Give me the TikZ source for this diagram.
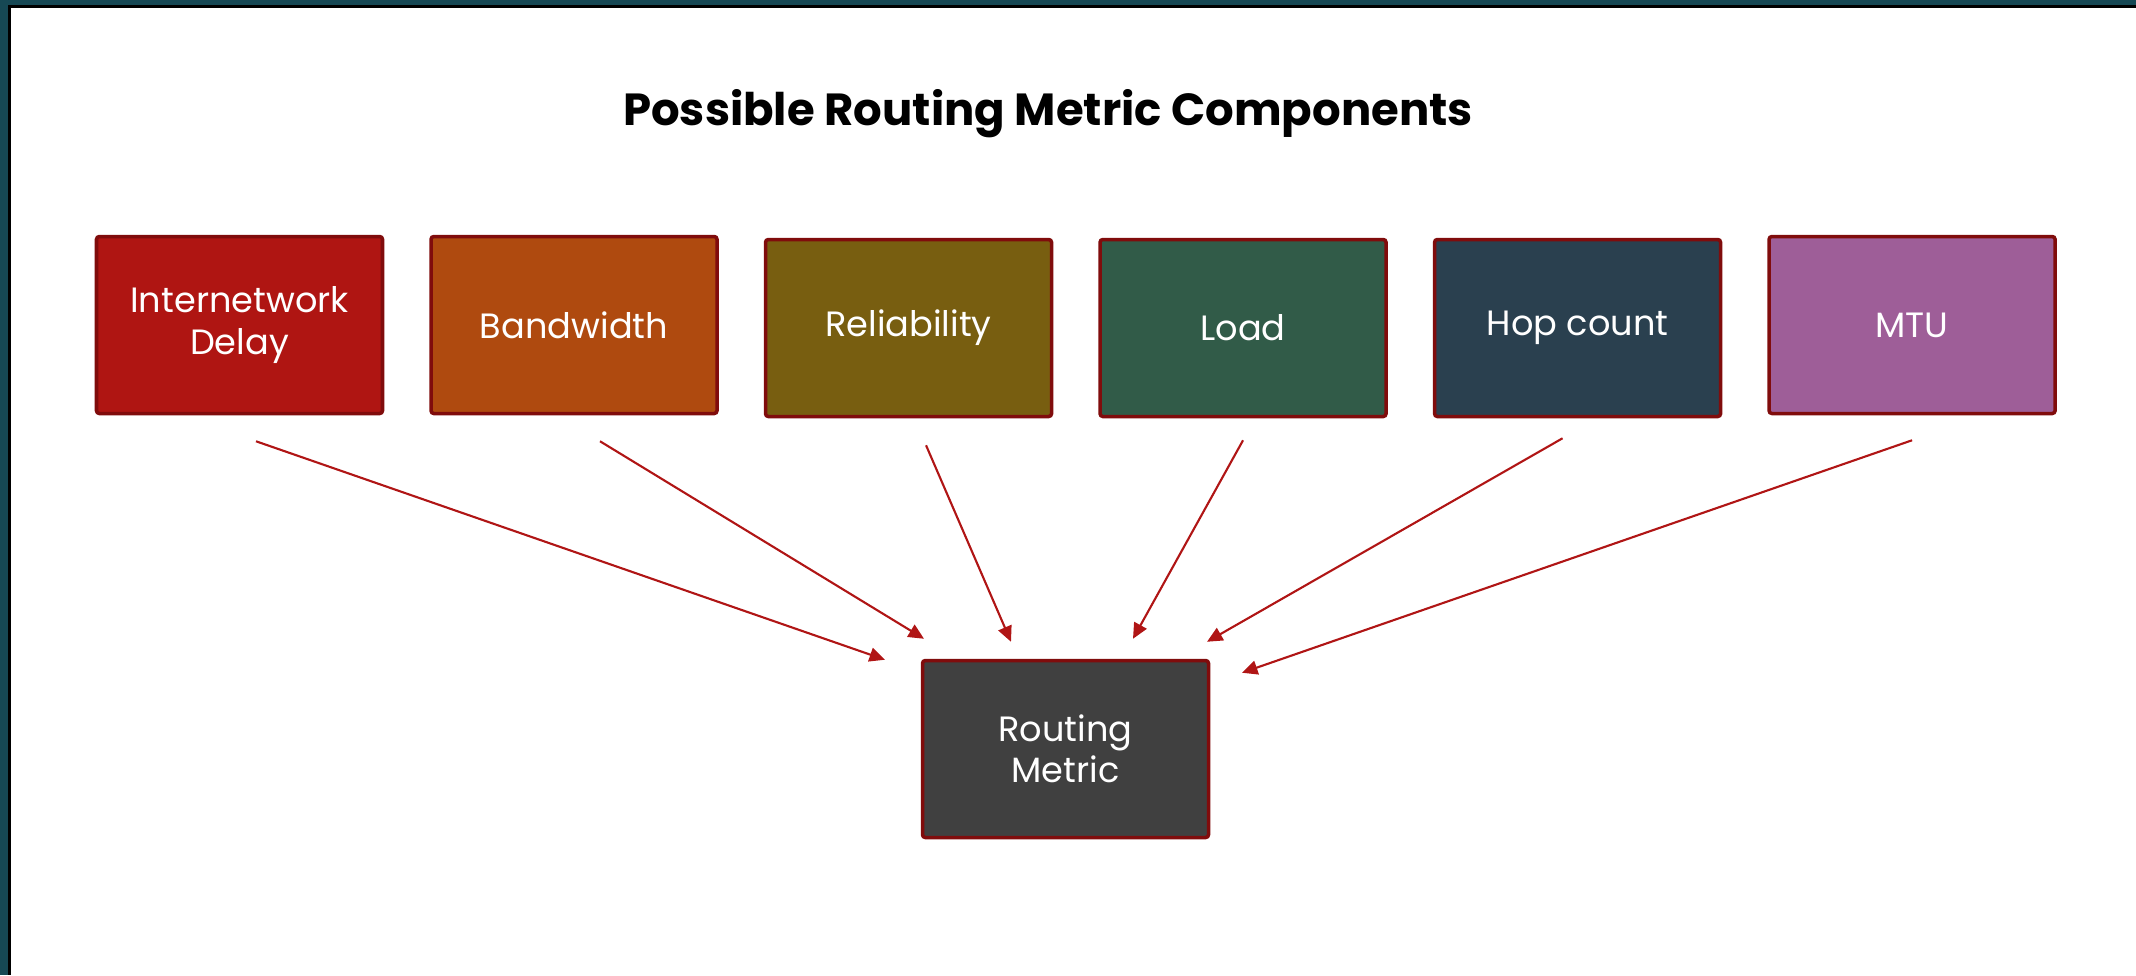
\documentclass[tikz,border=0pt]{standalone}
\usepackage{fontspec}
\setmainfont{Poppins}
\definecolor{rtred}{RGB}{175,21,18}
\definecolor{rtorange}{RGB}{175,74,15}
\definecolor{rtolive}{RGB}{120,94,16}
\definecolor{rtgreen}{RGB}{49,91,72}
\definecolor{rtnavy}{RGB}{42,64,79}
\definecolor{rtpurple}{RGB}{158,94,152}
\definecolor{rtgray}{RGB}{64,64,64}
\definecolor{rtedge}{RGB}{128,12,12}
\definecolor{rtarrow}{RGB}{176,21,21}
\definecolor{rtteal}{RGB}{22,72,84}
\usetikzlibrary{arrows.meta,positioning}

\begin{document}
\begin{tikzpicture}[
    metric/.style={draw=rtedge,line width=1pt,rounded corners=0.8pt,text=white,
      minimum width=2.86cm,minimum height=1.77cm,align=center,
      font=\fontsize{10}{11.7}\selectfont},
    feed/.style={draw=rtarrow,line width=0.6pt,-{Triangle[length=4.4pt,width=4pt]}},
    node distance=0.45cm]
  \useasboundingbox (0,0) rectangle (21.36,-9.75);
  % window frame
  \fill[rtteal] (0,0) rectangle (21.36,-0.05);
  \fill[rtteal] (0,0) rectangle (0.08,-9.75);
  \fill[black] (0.08,-0.05) rectangle (21.36,-0.08);
  \fill[black] (0.08,-0.05) rectangle (0.11,-9.75);

  \node[anchor=base,font=\bfseries\fontsize{12.8}{15}\selectfont] (title) at (10.48,-1.25)
    {Possible Routing Metric Components};

  \node[metric,fill=rtred] (delay) at (2.395,-3.25) {Internetwork\\Delay};
  \node[metric,fill=rtorange,right=of delay] (bw) {Bandwidth};
  \node[metric,fill=rtolive,right=of bw,yshift=-0.03cm] (rel) {Reliability};
  \node[metric,fill=rtgreen,right=of rel] (load) {Load};
  \node[metric,fill=rtnavy,right=of load] (hop) {Hop count};
  \node[metric,fill=rtpurple,right=of hop,yshift=0.03cm] (mtu) {MTU};

  \node[metric,fill=rtgray] (rm) at (10.655,-7.49) {Routing\\Metric};

  \draw[feed] ([shift={(0.165,-0.26)}]delay.south) -- ([shift={(-1.805,-0.01)}]rm.north);
  \draw[feed] ([shift={(0.26,-0.26)}]bw.south) -- ([shift={(-1.415,0.20)}]rm.north);
  \draw[feed] ([shift={(0.175,-0.27)}]rel.south) -- ([shift={(-0.545,0.17)}]rm.north);
  \draw[feed] ([shift={(0,-0.22)}]load.south) -- ([shift={(0.675,0.20)}]rm.north);
  \draw[feed] ([shift={(-0.15,-0.20)}]hop.south) -- ([shift={(1.415,0.17)}]rm.north);
  \draw[feed] ([shift={(0,-0.25)}]mtu.south) -- ([shift={(1.765,-0.14)}]rm.north);
\end{tikzpicture}
\end{document}
